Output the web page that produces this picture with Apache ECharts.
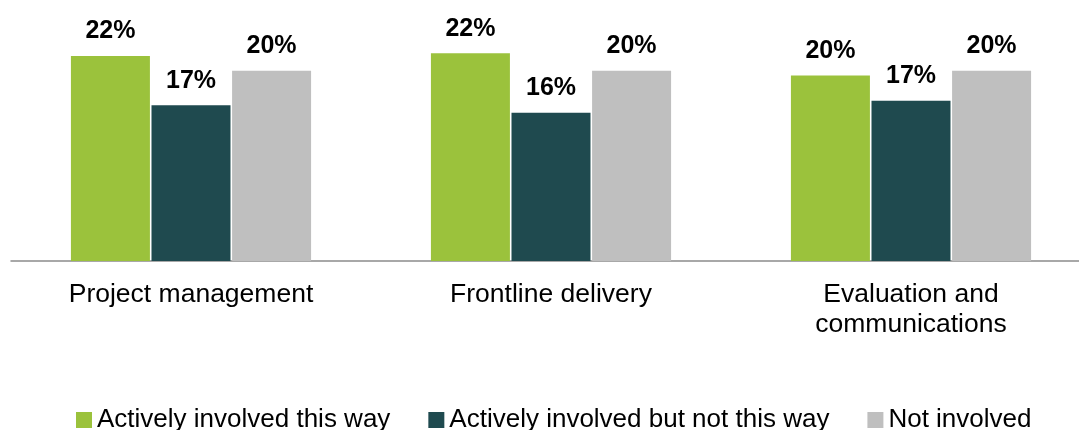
<!DOCTYPE html>
<html>
<head>
<meta charset="utf-8">
<script src="https://cdn.jsdelivr.net/npm/echarts@6/dist/echarts.min.js"></script>
<style>
html,body{margin:0;padding:0;background:#fff;overflow:hidden;width:1079px;height:430px;}
#chart{width:1100px;height:430px;}
</style>
</head>
<body>
<div id="chart"></div>
<script>
var categories = ['Project management', 'Frontline delivery', 'Evaluation and\ncommunications'];
var seriesNames = ['Actively involved this way', 'Actively involved but not this way', 'Not involved'];
var activelyThisWay = [22.0, 22.3, 19.9];
var activelyNotThisWay = [16.7, 15.9, 17.2];
var notInvolved = [20.4, 20.4, 20.4];
var colors = ['#9BC23C', '#1F4A4F', '#BFBFBF'];

var FONT = '"Liberation Sans", Arial, sans-serif';
var chart = echarts.init(document.getElementById('chart'), null, {renderer: 'canvas'});

function mk(name, data, color) {
  return {
    name: name,
    type: 'bar',
    data: data,
    barWidth: 79,
    barGap: '2%',
    itemStyle: {color: color},
    label: {
      show: true,
      position: 'top',
      distance: 12,
      formatter: function (p) { return Math.round(p.value) + '%'; },
      color: '#000',
      fontFamily: FONT,
      fontWeight: 'bold',
      fontSize: 25
    }
  };
}

chart.setOption({
  animation: false,
  backgroundColor: '#fff',
  grid: {left: 11, top: 0, width: 1080, bottom: 169, containLabel: false},
  legend: {
    data: seriesNames,
    left: 71,
    top: 402,
    itemWidth: 16,
    itemHeight: 16,
    itemGap: 38,
    icon: 'rect',
    textStyle: {fontFamily: FONT, fontSize: 26, color: '#000'}
  },
  xAxis: {
    type: 'category',
    data: categories,
    axisLine: {lineStyle: {color: '#8c8c8c', width: 1.5}},
    axisTick: {show: false},
    axisLabel: {
      margin: 19,
      fontFamily: FONT,
      fontSize: 26.5,
      lineHeight: 30,
      color: '#000',
      interval: 0
    }
  },
  yAxis: {
    type: 'value',
    min: 0,
    max: 28,
    show: false,
    splitLine: {show: false}
  },
  series: [
    mk(seriesNames[0], activelyThisWay, colors[0]),
    mk(seriesNames[1], activelyNotThisWay, colors[1]),
    mk(seriesNames[2], notInvolved, colors[2])
  ]
});
</script>
</body>
</html>
